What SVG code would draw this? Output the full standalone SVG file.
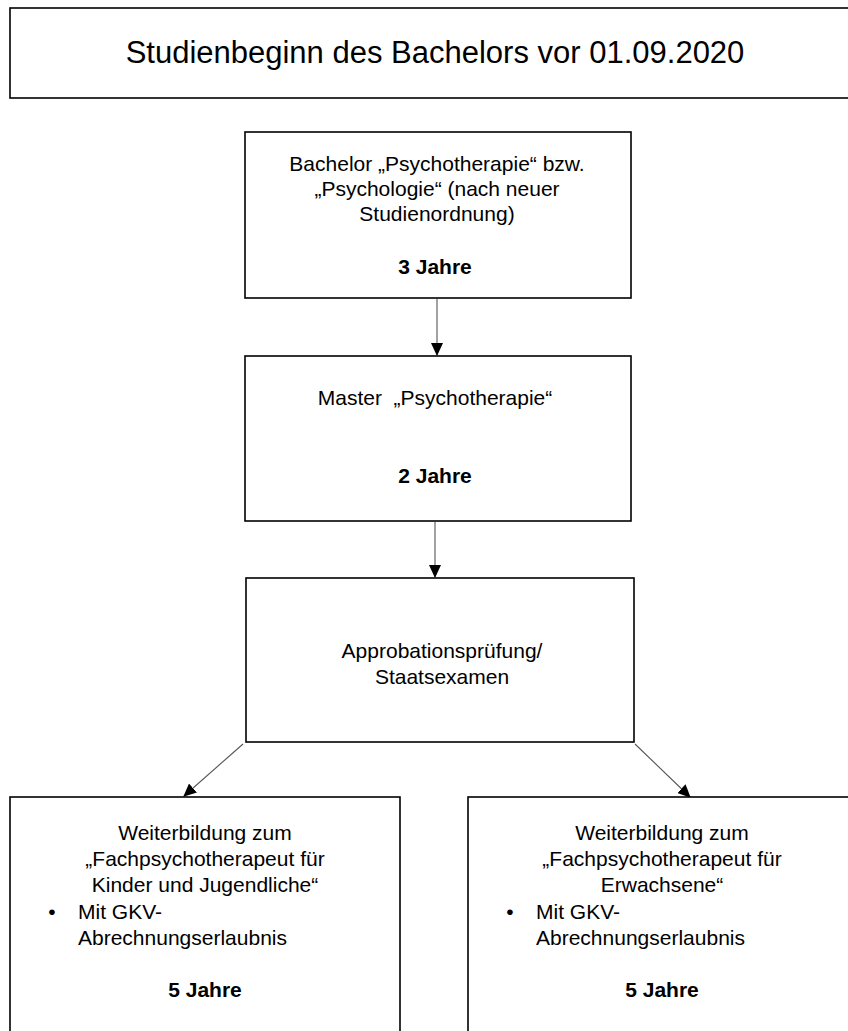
<svg xmlns="http://www.w3.org/2000/svg" width="848" height="1031" viewBox="0 0 848 1031">
<style>
.box{fill:#fff;stroke:#000;stroke-width:1.6}
.t{font-family:"Liberation Sans",Arial,sans-serif;font-size:21px;fill:#000;text-anchor:middle}
.s{text-anchor:start}
.b{font-weight:bold}
.c{stroke:#555;stroke-width:1.1;fill:none}
</style>
<defs>
<marker id="ah" markerWidth="13" markerHeight="12" refX="12" refY="6" orient="auto" markerUnits="userSpaceOnUse">
<path d="M0,0 L13,6 L0,12 z" fill="#000"/>
</marker>
</defs>
<rect width="848" height="1031" fill="#fff"/>
<g id="connectors">
<line class="c" x1="437" y1="299" x2="437" y2="355" marker-end="url(#ah)"/>
<line class="c" x1="435" y1="522" x2="435" y2="577" marker-end="url(#ah)"/>
<line class="c" x1="243" y1="744" x2="184" y2="796" marker-end="url(#ah)"/>
<line class="c" x1="635" y1="744" x2="690" y2="797" marker-end="url(#ah)"/>
</g>
<g id="header">
<rect class="box" x="10" y="8" width="860" height="90"/>
<text class="t" x="435" y="63" style="font-size:31px">Studienbeginn des Bachelors vor 01.09.2020</text>
</g>
<g id="bachelor">
<rect class="box" x="245" y="132" width="386" height="166"/>
<text class="t" x="437" y="171">Bachelor „Psychotherapie“ bzw.</text>
<text class="t" x="437" y="196">„Psychologie“ (nach neuer</text>
<text class="t" x="437" y="221">Studienordnung)</text>
<text class="t b" x="435" y="274">3 Jahre</text>
</g>
<g id="master">
<rect class="box" x="245" y="356" width="386" height="165"/>
<text class="t" x="435" y="405" xml:space="preserve">Master  „Psychotherapie“</text>
<text class="t b" x="435" y="483">2 Jahre</text>
</g>
<g id="approbation">
<rect class="box" x="246" y="578" width="388" height="164"/>
<text class="t" x="442" y="658">Approbationsprüfung/</text>
<text class="t" x="442" y="684">Staatsexamen</text>
</g>
<g id="kinder">
<rect class="box" x="10" y="797" width="390" height="250"/>
<text class="t" x="205" y="840">Weiterbildung zum</text>
<text class="t" x="205" y="866">„Fachpsychotherapeut für</text>
<text class="t" x="205" y="892">Kinder und Jugendliche“</text>
<text class="t" x="52" y="919">•</text>
<text class="t s" x="78" y="919">Mit GKV-</text>
<text class="t s" x="78" y="945">Abrechnungserlaubnis</text>
<text class="t b" x="205" y="997">5 Jahre</text>
</g>
<g id="erwachsene">
<rect class="box" x="468" y="797" width="400" height="250"/>
<text class="t" x="662" y="840">Weiterbildung zum</text>
<text class="t" x="662" y="866">„Fachpsychotherapeut für</text>
<text class="t" x="662" y="892">Erwachsene“</text>
<text class="t" x="510" y="919">•</text>
<text class="t s" x="536" y="919">Mit GKV-</text>
<text class="t s" x="536" y="945">Abrechnungserlaubnis</text>
<text class="t b" x="662" y="997">5 Jahre</text>
</g>
</svg>
